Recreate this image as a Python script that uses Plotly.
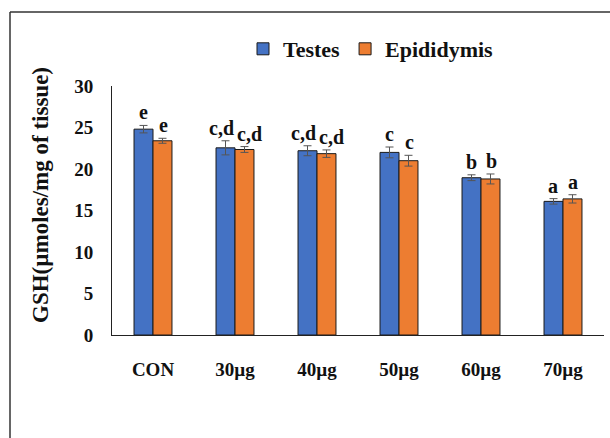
import plotly.graph_objects as go

categories = ["CON", "30µg", "40µg", "50µg", "60µg", "70µg"]
testes = [24.8, 22.55, 22.2, 22.0, 18.95, 16.1]
testes_err = [0.45, 0.85, 0.6, 0.65, 0.35, 0.33]
epid = [23.4, 22.35, 21.85, 21.0, 18.8, 16.4]
epid_err = [0.3, 0.35, 0.45, 0.65, 0.6, 0.5]
testes_letters = ["e", "c,d", "c,d", "c", "b", "a"]
epid_letters = ["e", "c,d", "c,d", "c", "b", "a"]

FONT = "Liberation Serif"
BLUE = "#4472C4"
ORANGE = "#ED7D31"

fig = go.Figure()
fig.add_trace(go.Bar(
    x=categories, y=testes, name="Testes",
    marker=dict(color=BLUE, line=dict(color="#1a1a1a", width=1)),
    error_y=dict(type="data", array=testes_err, color="#555555", thickness=1, width=4),
))
fig.add_trace(go.Bar(
    x=categories, y=epid, name="Epididymis",
    marker=dict(color=ORANGE, line=dict(color="#1a1a1a", width=1)),
    error_y=dict(type="data", array=epid_err, color="#555555", thickness=1, width=4),
))

annotations = []
for i, c in enumerate(categories):
    ts = -14 if len(testes_letters[i]) > 1 else -10
    es = 14 if len(epid_letters[i]) > 1 else 10
    annotations.append(dict(x=c, y=testes[i] + testes_err[i], xref="x", yref="y",
                            text=f"<b>{testes_letters[i]}</b>", showarrow=False,
                            xshift=ts, yshift=0, yanchor="bottom", xanchor="center",
                            font=dict(family=FONT, size=20, color="#111")))
    annotations.append(dict(x=c, y=epid[i] + epid_err[i], xref="x", yref="y",
                            text=f"<b>{epid_letters[i]}</b>", showarrow=False,
                            xshift=es, yshift=0, yanchor="bottom", xanchor="center",
                            font=dict(family=FONT, size=20, color="#111")))

# y-axis title
annotations.append(dict(x=(40 - 112) / 492, y=(335 - 195) / 249, xref="paper", yref="paper",
                        xanchor="center", yanchor="middle",
                        text="<b>GSH(µmoles/mg of tissue)</b>", textangle=-90, showarrow=False,
                        font=dict(family=FONT, size=23, color="#111")))

px_x = lambda p: (p - 112) / 492
px_y = lambda p: (335 - p) / 249

fig.update_layout(
    width=610, height=438,
    margin=dict(l=112, r=6, t=86, b=103),
    paper_bgcolor="white", plot_bgcolor="white",
    barmode="group", bargap=0.537, bargroupgap=0,
    font=dict(family=FONT, color="#111"),
    showlegend=True,
    legend=dict(orientation="h", x=px_x(243), y=px_y(49),
                xanchor="left", yanchor="middle",
                font=dict(family=FONT, size=22, color="#111", weight="bold"),
                bgcolor="rgba(0,0,0,0)", itemwidth=30),
    annotations=annotations,
    shapes=[
        dict(type="line", xref="paper", yref="paper",
             x0=px_x(10), x1=px_x(610), y0=px_y(12), y1=px_y(12),
             line=dict(color="#333333", width=1.5), layer="below"),
        dict(type="line", xref="paper", yref="paper",
             x0=px_x(10), x1=px_x(10), y0=px_y(12), y1=px_y(440),
             line=dict(color="#333333", width=1.5), layer="below"),
    ],
    xaxis=dict(showline=True, linecolor="#222", linewidth=1, ticks="", showgrid=False,
               tickfont=dict(family=FONT, size=19, color="#111", weight="bold"),
               ticklabelstandoff=17),
    yaxis=dict(range=[0, 30], dtick=5, showline=True, linecolor="#222", linewidth=1,
               ticks="", showgrid=False, zeroline=False,
               tickfont=dict(family=FONT, size=19, color="#111", weight="bold"),
               ticklabelstandoff=14),
)

fig.write_html("out.html")
